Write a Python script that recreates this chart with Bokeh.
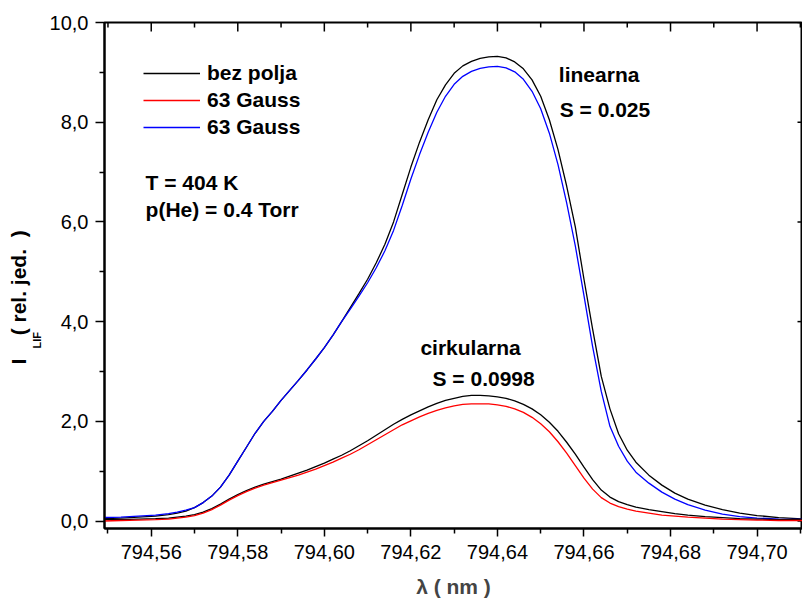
from bokeh.plotting import figure
from bokeh.models import (Label, Legend, LegendItem, FixedTicker,
                          CustomJSTickFormatter, Range1d, Title)
from bokeh.embed import file_html
from bokeh.resources import INLINE

# ---------------- data ----------------
wavelength = [794.549, 794.553, 794.557, 794.561, 794.564, 794.566, 794.568, 794.570,
              794.572, 794.574, 794.576, 794.578, 794.580, 794.582, 794.584, 794.586,
              794.588, 794.590, 794.592, 794.594, 794.596, 794.598, 794.600, 794.602,
              794.604, 794.606, 794.608, 794.610, 794.612, 794.614, 794.616, 794.618,
              794.620, 794.622, 794.624, 794.626, 794.628, 794.630, 794.632, 794.634,
              794.636, 794.638, 794.640, 794.642, 794.644, 794.646, 794.648, 794.650,
              794.652, 794.654, 794.656, 794.658, 794.660, 794.662, 794.664, 794.666,
              794.668, 794.670, 794.672, 794.675, 794.678, 794.681, 794.684, 794.688,
              794.692, 794.696, 794.700, 794.705, 794.711]

lin_no_field = [0.05, 0.06, 0.08, 0.10, 0.13, 0.16, 0.20, 0.27,
                0.37, 0.50, 0.68, 0.92, 1.20, 1.48, 1.76, 2.00,
                2.20, 2.42, 2.62, 2.82, 3.03, 3.25, 3.48, 3.73,
                4.00, 4.28, 4.56, 4.85, 5.18, 5.55, 6.00, 6.55,
                7.10, 7.60, 8.05, 8.45, 8.75, 8.98, 9.13, 9.22,
                9.28, 9.31, 9.32, 9.29, 9.21, 9.07, 8.85, 8.52,
                8.05, 7.45, 6.72, 5.90, 4.85, 3.85, 2.90, 2.25,
                1.75, 1.42, 1.18, 0.92, 0.72, 0.56, 0.44, 0.32,
                0.23, 0.16, 0.11, 0.07, 0.04]

lin_63G = [0.07, 0.08, 0.10, 0.12, 0.15, 0.18, 0.22, 0.27,
           0.37, 0.50, 0.68, 0.92, 1.20, 1.48, 1.76, 2.00,
           2.20, 2.42, 2.62, 2.82, 3.03, 3.25, 3.48, 3.73,
           4.00, 4.25, 4.51, 4.78, 5.08, 5.42, 5.83, 6.33,
           6.86, 7.35, 7.80, 8.20, 8.52, 8.76, 8.92, 9.02,
           9.08, 9.11, 9.12, 9.09, 9.01, 8.86, 8.62, 8.27,
           7.78, 7.15, 6.38, 5.52, 4.52, 3.50, 2.60, 1.90,
           1.50, 1.20, 0.98, 0.76, 0.58, 0.44, 0.33, 0.22,
           0.14, 0.09, 0.06, 0.04, 0.03]

circ_no_field = [0.03, 0.03, 0.04, 0.05, 0.06, 0.08, 0.10, 0.13,
                 0.18, 0.25, 0.34, 0.44, 0.53, 0.61, 0.68, 0.74,
                 0.79, 0.84, 0.90, 0.96, 1.02, 1.09, 1.16, 1.24,
                 1.32, 1.41, 1.51, 1.61, 1.72, 1.83, 1.94, 2.04,
                 2.13, 2.21, 2.29, 2.36, 2.42, 2.46, 2.50, 2.52,
                 2.52, 2.51, 2.49, 2.46, 2.41, 2.34, 2.25, 2.13,
                 1.98, 1.80, 1.58, 1.34, 1.08, 0.83, 0.62, 0.48,
                 0.39, 0.33, 0.28, 0.23, 0.19, 0.15, 0.12, 0.09,
                 0.07, 0.05, 0.04, 0.03, 0.03]

circ_63G = [0.00, 0.01, 0.02, 0.03, 0.04, 0.06, 0.08, 0.11,
            0.16, 0.23, 0.32, 0.42, 0.51, 0.59, 0.66, 0.72,
            0.77, 0.82, 0.87, 0.92, 0.98, 1.04, 1.11, 1.18,
            1.26, 1.34, 1.43, 1.53, 1.63, 1.73, 1.83, 1.93,
            2.01, 2.09, 2.16, 2.22, 2.27, 2.31, 2.34, 2.35,
            2.35, 2.35, 2.33, 2.30, 2.25, 2.18, 2.08, 1.95,
            1.79, 1.59, 1.36, 1.11, 0.86, 0.64, 0.47, 0.36,
            0.29, 0.24, 0.20, 0.16, 0.12, 0.10, 0.08, 0.06,
            0.04, 0.03, 0.02, 0.01, 0.01]

x_major_ticks = [794.56, 794.58, 794.60, 794.62, 794.64, 794.66, 794.68, 794.70]
x_minor_ticks = [794.55, 794.57, 794.59, 794.61, 794.63, 794.65, 794.67, 794.69, 794.71]
y_major_ticks = [0, 2, 4, 6, 8, 10]
y_minor_ticks = [1, 3, 5, 7, 9]

legend_labels = ["bez polja", "63 Gauss", "63 Gauss"]

FONT = "Liberation Sans"
X0, X1 = 794.5492, 794.7105
Y0, Y1 = -0.15, 10.0
FRAME_W, FRAME_H = 698, 506          # frame size in px (802-104, 528-22)
px_x = (X1 - X0) / FRAME_W           # data units per pixel
px_y = (Y1 - Y0) / FRAME_H

p = figure(width=802, height=600, output_backend="svg", toolbar_location=None,
           x_range=Range1d(X0, X1), y_range=Range1d(Y0, Y1),
           min_border_left=104, min_border_right=0, min_border_top=22, min_border_bottom=72)
p.outline_line_color = "black"
p.outline_line_width = 2
p.xgrid.visible = False
p.ygrid.visible = False
p.background_fill_color = None
p.border_fill_color = None

xfmt = CustomJSTickFormatter(code="return tick.toFixed(2).replace('.', ',');")
yfmt = CustomJSTickFormatter(code="return tick.toFixed(1).replace('.', ',');")

def style_axis(ax):
    ax.axis_line_width = 2
    ax.axis_line_color = "black"
    ax.major_tick_line_width = 1.5
    ax.minor_tick_line_width = 1.5
    ax.major_tick_line_color = "black"
    ax.minor_tick_line_color = "black"
    ax.major_label_text_font = FONT
    ax.major_label_text_font_size = "20px"
    ax.major_label_text_color = "black"

# bottom axis
xa = p.xaxis[0]
style_axis(xa)
xa.ticker = FixedTicker(ticks=x_major_ticks, minor_ticks=x_minor_ticks)
xa.formatter = xfmt
xa.major_tick_out = 8
xa.major_tick_in = 0
xa.minor_tick_out = 5
xa.minor_tick_in = 0
xa.major_label_standoff = 8
xa.axis_label = "λ ( nm )"
xa.axis_label_text_font = FONT
xa.axis_label_text_font_size = "21px"
xa.axis_label_text_font_style = "bold"
xa.axis_label_standoff = 13

# left axis
ya = p.yaxis[0]
style_axis(ya)
ya.ticker = FixedTicker(ticks=y_major_ticks, minor_ticks=y_minor_ticks)
ya.formatter = yfmt
ya.major_tick_out = 9
ya.major_tick_in = 0
ya.minor_tick_out = 5
ya.minor_tick_in = 0
ya.major_label_standoff = 7

# inward ticks on the top and right frame edges (positions from the tick lists)
p.segment(x0=x_major_ticks, y0=[Y1] * len(x_major_ticks),
          x1=x_major_ticks, y1=[Y1 - 9 * px_y] * len(x_major_ticks),
          line_color="black", line_width=1.5)
p.segment(x0=x_minor_ticks, y0=[Y1] * len(x_minor_ticks),
          x1=x_minor_ticks, y1=[Y1 - 5 * px_y] * len(x_minor_ticks),
          line_color="black", line_width=1.5)
p.segment(x0=[X1] * len(y_major_ticks), y0=y_major_ticks,
          x1=[X1 - 5 * px_x] * len(y_major_ticks), y1=y_major_ticks,
          line_color="black", line_width=1.5)

# curves
r_lin_bl = p.line(wavelength, lin_no_field, line_color="black", line_width=1.3)
r_lin_bu = p.line(wavelength, lin_63G, line_color="#0000ff", line_width=1.3)
r_cir_bl = p.line(wavelength, circ_no_field, line_color="black", line_width=1.3)
r_cir_rd = p.line(wavelength, circ_63G, line_color="#ff0000", line_width=1.3)

legend = Legend(items=[LegendItem(label=legend_labels[0], renderers=[r_lin_bl]),
                       LegendItem(label=legend_labels[1], renderers=[r_cir_rd]),
                       LegendItem(label=legend_labels[2], renderers=[r_lin_bu])],
                location="top_left", border_line_color=None, background_fill_alpha=0,
                label_text_font=FONT, label_text_font_size="21px", label_text_font_style="bold",
                label_text_color="black",
                glyph_width=57, glyph_height=24, label_height=24, label_standoff=7,
                padding=0, margin=39, spacing=3)
p.add_layout(legend)

def txt(x, y, s):
    p.add_layout(Label(x=x, y=y, text=s, text_font=FONT, text_font_size="21px",
                       text_font_style="bold", text_align="left", text_baseline="alphabetic",
                       text_color="black"))

txt(794.5587, 6.80, "T = 404 K")
txt(794.5587, 6.24, "p(He) = 0.4 Torr")
txt(794.6542, 8.957, "linearna")
txt(794.6544, 8.25, "S = 0.025")
txt(794.6222, 3.49, "cirkularna")
txt(794.6250, 2.855, "S = 0.0998")

# y axis title with subscript, as side-panel titles
NB = "\u00a0"
t_sub = Title(text="LIF", text_font=FONT, text_font_size="11px", text_font_style="bold",
              text_color="black", align="left", offset=180, standoff=7)
p.add_layout(t_sub, "left")
t_main = Title(text="I" + NB * 4 + "( rel. jed." + NB * 2 + ")", text_font=FONT,
               text_font_size="21px", text_font_style="bold", text_color="black",
               align="left", offset=164, standoff=-8)
p.add_layout(t_main, "left")

open("out.html", "w").write(file_html(p, INLINE))
